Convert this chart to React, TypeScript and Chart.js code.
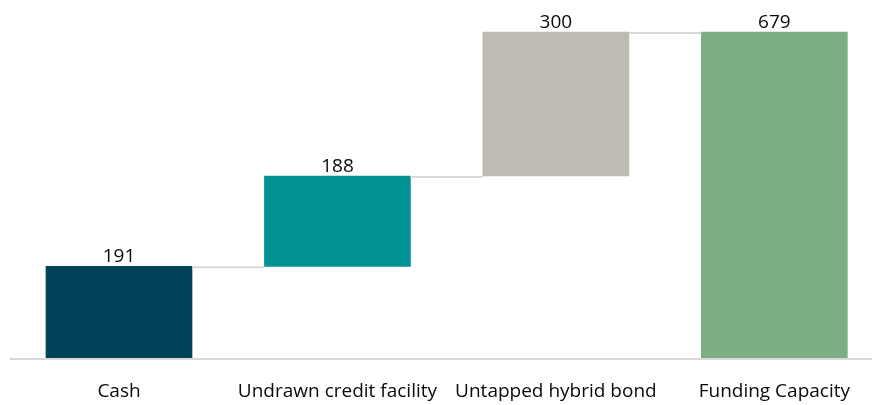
import React, { useEffect, useRef } from "react";
import { Chart, registerables } from "chart.js";

Chart.register(...registerables);

const categories = ["Cash", "Undrawn credit facility", "Untapped hybrid bond", "Funding Capacity"];
const stepValues = [191, 188, 300];
const totalValue = 679;
const barColors = ["#02435A", "#039294", "#BFBBB4", "#7BAF83"];

const FONT = "'Open Sans', Lato, sans-serif";

export default function App() {
  const ref = useRef<HTMLCanvasElement | null>(null);

  useEffect(() => {
    document.body.style.margin = "0";
    const canvas = ref.current;
    if (!canvas) return;

    const ranges: [number, number][] = [];
    let cum = 0;
    for (const v of stepValues) {
      ranges.push([cum, cum + v]);
      cum += v;
    }
    ranges.push([0, totalValue]);
    const labelValues = [...stepValues, totalValue];

    const overlay = {
      id: "overlay",
      afterDatasetsDraw(chart: any) {
        const ctx = chart.ctx;
        const meta = chart.getDatasetMeta(0);
        const y = chart.scales.y;
        ctx.save();
        // baseline
        ctx.strokeStyle = "#D9D9D9";
        ctx.lineWidth = 2;
        const by = y.getPixelForValue(0) + 1;
        ctx.beginPath();
        ctx.moveTo(10, by);
        ctx.lineTo(chart.width, by);
        ctx.stroke();
        // connectors
        for (let i = 0; i < meta.data.length - 1; i++) {
          const a = meta.data[i];
          const b = meta.data[i + 1];
          const lvl = ranges[i][1];
          const ly = y.getPixelForValue(lvl) + 1;
          ctx.beginPath();
          ctx.moveTo(a.x + a.width / 2, ly);
          ctx.lineTo(b.x - b.width / 2, ly);
          ctx.stroke();
        }
        // value labels
        ctx.fillStyle = "#0A0A0A";
        ctx.font = `19px ${FONT}`;
        ctx.textAlign = "center";
        ctx.textBaseline = "alphabetic";
        meta.data.forEach((el: any, i: number) => {
          const top = y.getPixelForValue(ranges[i][1]);
          ctx.fillText(String(labelValues[i]), el.x, top - 4);
        });
        ctx.restore();
      },
    };

    const chart = new Chart(canvas, {
      type: "bar",
      data: {
        labels: categories,
        datasets: [
          {
            data: ranges as any,
            backgroundColor: barColors,
            borderWidth: 0,
            barThickness: 146,
            clip: false as any,
          },
        ],
      },
      options: {
        responsive: false,
        animation: false,
        layout: { padding: { top: 32, left: 119, right: 97, bottom: 0 } },
        plugins: { legend: { display: false }, tooltip: { enabled: false } },
        scales: {
          x: {
            offset: false,
            grid: { display: false, drawTicks: false },
            border: { display: false },
            ticks: {
              color: "#0A0A0A",
              font: { family: FONT, size: 19 },
              padding: 22,
              maxRotation: 0,
              autoSkip: false,
            },
            afterFit(scale: any) {
              scale.height = 47;
            },
          },
          y: {
            display: false,
            min: 0,
            max: totalValue,
          },
        },
      },
      plugins: [overlay],
    });
    return () => chart.destroy();
  }, []);

  return <canvas ref={ref} width={872} height={405} style={{ display: "block" }} />;
}
